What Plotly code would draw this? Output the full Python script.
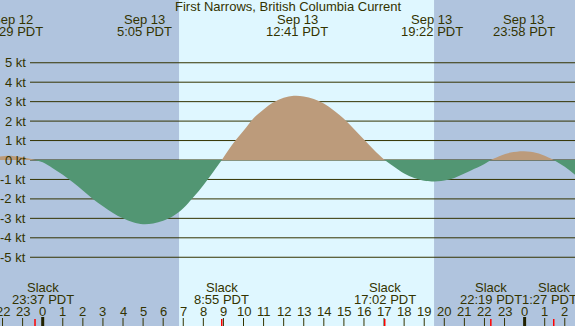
import plotly.graph_objects as go

# ---------------- data (hours relative to midnight Sep 13, PDT; knots) ----------------
flood0_t = [-2.3, -1.9, -1.52, -1.0, -0.38]
flood0_v = [0.17, 0.2, 0.21, 0.14, 0.0]

ebb1_t = [-0.38, 0.0, 0.5, 1.0, 1.5, 2.0, 2.5, 3.0, 3.5, 4.0, 4.5, 5.0, 5.5, 6.0, 6.5, 7.0, 7.5, 8.0, 8.5, 8.92]
ebb1_v = [0.0, -0.12, -0.42, -0.76, -1.15, -1.57, -2.0, -2.38, -2.72, -3.0, -3.2, -3.3, -3.26, -3.12, -2.88, -2.48, -1.92, -1.3, -0.6, 0.0]

flood1_t = [8.92, 9.5, 10.0, 10.5, 11.0, 11.5, 12.0, 12.5, 13.0, 13.5, 14.0, 14.5, 15.0, 15.5, 16.0, 16.5, 17.03]
flood1_v = [0.0, 0.87, 1.5, 2.15, 2.6, 2.97, 3.2, 3.3, 3.27, 3.13, 2.9, 2.55, 2.12, 1.6, 1.06, 0.52, 0.0]

ebb2_t = [17.03, 17.5, 18.0, 18.5, 19.0, 19.37, 20.0, 20.5, 21.0, 21.5, 22.0, 22.32]
ebb2_v = [0.0, -0.35, -0.7, -0.93, -1.07, -1.1, -1.05, -0.92, -0.7, -0.45, -0.2, 0.0]

flood2_t = [22.32, 22.8, 23.3, 23.97, 24.6, 25.0, 25.45]
flood2_v = [0.0, 0.22, 0.38, 0.45, 0.36, 0.22, 0.0]

ebb3_t = [25.45, 25.8, 26.2, 26.6]
ebb3_v = [0.0, -0.22, -0.5, -0.84]

# max current events (top labels)
max_times = [-1.517, 5.083, 12.683, 19.367, 23.967]
max_dates = ["Sep 12", "Sep 13", "Sep 13", "Sep 13", "Sep 13"]
max_labels = ["22:29 PDT", "5:05 PDT", "12:41 PDT", "19:22 PDT", "23:58 PDT"]

# slack events (bottom labels)
slack_times = [-2.983, -0.383, 8.917, 17.033, 22.317, 25.45]
slack_labels = ["21:01 PDT", "23:37 PDT", "8:55 PDT", "17:02 PDT", "22:19 PDT", "1:27 PDT"]

sunrise, sunset = 6.79, 19.49
kt_levels = [5, 4, 3, 2, 1, 0, -1, -2, -3, -4, -5]
hour_ticks = list(range(-2, 27))
hour_labels = [str(h % 24) for h in hour_ticks]
midnights = [0, 24]
title = "First Narrows, British Columbia Current"

# ---------------- style ----------------
W, H = 575, 326
NIGHT = "#b0c4de"
DAY = "#dff7ff"
FLOOD = "#bc9b7b"
EBB = "#529673"
INK = "#333300"
FONT = "Liberation Sans, Arial, sans-serif"
FS = 13

X0_PX, PX_PER_H = 42.7, 20.08
Y0_PX, PX_PER_KT = 160.0, 19.45
xr = [-X0_PX / PX_PER_H, (W - X0_PX) / PX_PER_H]
yr = [-(H - Y0_PX) / PX_PER_KT, Y0_PX / PX_PER_KT]


def py(p):
    return 1 - p / H


fig = go.Figure()

for t, v, c in [(flood0_t, flood0_v, FLOOD), (ebb1_t, ebb1_v, EBB), (flood1_t, flood1_v, FLOOD),
                (ebb2_t, ebb2_v, EBB), (flood2_t, flood2_v, FLOOD), (ebb3_t, ebb3_v, EBB)]:
    fig.add_trace(go.Scatter(x=t, y=v, mode="lines", fill="tozeroy", fillcolor=c,
                             line=dict(width=0, shape="spline", smoothing=1.0, color=c),
                             hoverinfo="skip"))

shapes = []
shapes.append(dict(type="rect", xref="x", yref="paper", x0=sunrise, x1=sunset, y0=0, y1=1,
                   fillcolor=DAY, line=dict(width=0), layer="below"))
for k in kt_levels:
    shapes.append(dict(type="line", xref="paper", yref="y", x0=30 / W, x1=1, y0=k, y1=k,
                       line=dict(color=INK, width=1), layer="below"))
for h in hour_ticks:
    shapes.append(dict(type="line", xref="x", yref="paper", x0=h, x1=h, y0=0, y1=8 / H,
                       line=dict(color=INK, width=1), layer="above"))
for m in midnights:
    shapes.append(dict(type="line", xref="x", yref="paper", x0=m, x1=m, y0=0, y1=9 / H,
                       line=dict(color="#222200", width=3), layer="above"))
for s in slack_times:
    shapes.append(dict(type="line", xref="x", yref="paper", x0=s, x1=s, y0=0, y1=7 / H,
                       line=dict(color="#ff0000", width=1.5), layer="above"))

ann = []
font = dict(family=FONT, size=FS, color=INK)
ann.append(dict(text=title, xref="paper", yref="paper", x=0.5, y=py(7), xanchor="center",
                yanchor="middle", showarrow=False, font=font))
for t, d, lab in zip(max_times, max_dates, max_labels):
    ann.append(dict(text=d, xref="x", yref="paper", x=t, y=py(20), xanchor="center",
                    yanchor="middle", showarrow=False, font=font))
    ann.append(dict(text=lab, xref="x", yref="paper", x=t, y=py(32), xanchor="center",
                    yanchor="middle", showarrow=False, font=font))
for i, (t, lab) in enumerate(zip(slack_times, slack_labels)):
    shift = 0
    tshift = 0
    if i == 1:
        shift = tshift = 8
    if i == len(slack_times) - 1:
        tshift = -4
    ann.append(dict(text="Slack", xref="x", yref="paper", x=t, y=py(287), xanchor="center",
                    yanchor="middle", showarrow=False, font=font, xshift=shift))
    ann.append(dict(text=lab, xref="x", yref="paper", x=t, y=py(299), xanchor="center",
                    yanchor="middle", showarrow=False, font=font, xshift=tshift))
for h, lab in zip(hour_ticks, hour_labels):
    ann.append(dict(text=lab, xref="x", yref="paper", x=h, y=py(311), xanchor="center",
                    yanchor="middle", showarrow=False, font=font))
for k in kt_levels:
    ann.append(dict(text=f"{k} kt", xref="paper", yref="y", x=28 / W, y=k, xanchor="right",
                    yanchor="middle", showarrow=False, font=font))

fig.update_layout(
    width=W, height=H, margin=dict(l=0, r=0, t=0, b=0),
    paper_bgcolor=NIGHT, plot_bgcolor="rgba(0,0,0,0)",
    showlegend=False,
    xaxis=dict(range=xr, visible=False, fixedrange=True),
    yaxis=dict(range=yr, visible=False, fixedrange=True),
    shapes=shapes, annotations=ann,
)

fig.write_html("out.html", config={"displayModeBar": False},
               post_script="document.body.style.margin='0px';document.body.style.overflow='hidden';")
